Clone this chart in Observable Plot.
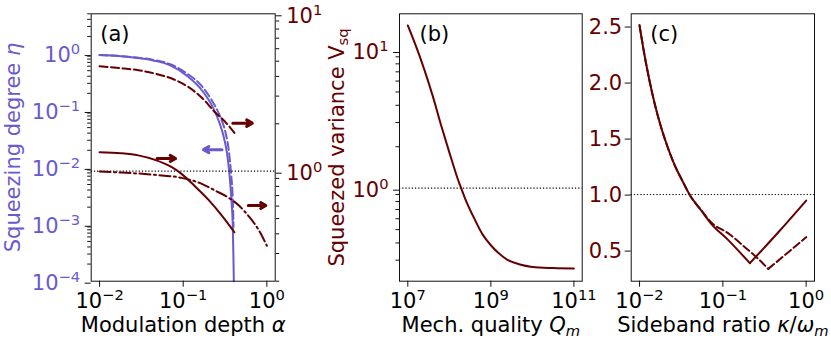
<!DOCTYPE html>
<html><head><meta charset="utf-8">
<script src="https://cdn.jsdelivr.net/npm/d3@7"></script>
<script src="https://cdn.jsdelivr.net/npm/@observablehq/plot@0.6"></script>
<style>
html,body{margin:0;padding:0;background:#fff;}
#chart{position:relative;width:831px;height:338px;overflow:hidden;background:#fff;}
#chart svg{position:absolute;left:0;top:0;}
</style></head><body><div id="chart"></div>
<script>
// ---------------- data ----------------
// Panel (a), left axis: squeezing degree eta vs modulation depth alpha
const alphaEtaSolid = [0.01, 0.018, 0.028, 0.045, 0.07, 0.11, 0.17, 0.22, 0.265, 0.306, 0.335, 0.357, 0.378, 0.392, 0.398, 0.403];
const etaSolid      = [0.94, 0.9, 0.84, 0.75, 0.62, 0.41, 0.22, 0.123, 0.0667, 0.0338, 0.0172, 0.00765, 0.00259, 0.000875, 0.0003, 0.0001];
const alphaEtaDashed = [0.01, 0.018, 0.028, 0.045, 0.07, 0.11, 0.17, 0.22, 0.2786, 0.32, 0.351, 0.374, 0.392, 0.40];
const etaDashed      = [0.94, 0.9, 0.85, 0.77, 0.65, 0.45, 0.26, 0.15, 0.0762, 0.0414, 0.0197, 0.00765, 0.00259, 0.0009];
// Panel (a), right axis: squeezed variance
const alphaVDashed = [0.01, 0.018, 0.029, 0.046, 0.073, 0.115, 0.167, 0.24, 0.32, 0.41];
const vDashedA     = [4.64, 4.51, 4.38, 4.17, 3.88, 3.43, 2.93, 2.37, 2.05, 1.75];
const alphaVSolid  = [0.01, 0.018, 0.029, 0.046, 0.073, 0.0955, 0.139, 0.201, 0.29, 0.41];
const vSolidA      = [1.32, 1.30, 1.26, 1.18, 1.06, 0.962, 0.80, 0.657, 0.522, 0.409];
const alphaVDashDot = [0.01, 0.018, 0.046, 0.0955, 0.167, 0.24, 0.351, 0.4635, 0.611, 0.807, 1.0];
const vDashDotA     = [0.996, 0.981, 0.948, 0.907, 0.831, 0.754, 0.677, 0.605, 0.515, 0.419, 0.336];
// Panel (a) arrows (which axis each curve belongs to)
const arrowVFrom = [0.392, 0.0487, 0.60];
const arrowVTo   = [0.670, 0.0811, 0.973];
const arrowVAt   = [2.02, 1.205, 0.605];
const arrowEtaFrom = [0.291];
const arrowEtaTo   = [0.175];
const arrowEtaAt   = [0.0205];
// Panel (b): squeezed variance vs mechanical quality
const qValues = [1e7, 1.58e7, 2.51e7, 3.98e7, 6.31e7, 1e8, 1.58e8, 1.93e8, 2.51e8, 3.98e8, 6.31e8, 1e9, 1.58e9, 2.51e9, 5.01e9, 1e10, 3.16e10, 1e11];
const vQ      = [15.2, 10.7, 7.24, 4.68, 2.88, 1.82, 1.175, 1.0, 0.813, 0.603, 0.462, 0.385, 0.335, 0.302, 0.279, 0.268, 0.263, 0.261];
// Panel (c): squeezed variance vs sideband ratio
const kappaSolid = [0.01, 0.0114, 0.0131, 0.01503, 0.01807, 0.02178, 0.02624, 0.03305, 0.0398, 0.055, 0.0726, 0.1154, 0.211, 0.4634, 1.0];
const vKSolid    = [2.51, 2.256, 2.024, 1.826, 1.605, 1.422, 1.266, 1.115, 1.0, 0.857, 0.738, 0.595, 0.387, 0.663, 0.946];
const kappaDashed = [0.01, 0.0114, 0.0131, 0.01503, 0.01807, 0.02178, 0.02624, 0.03305, 0.0398, 0.055, 0.0726, 0.1154, 0.1836, 0.2655, 0.3508, 0.611, 1.0];
const vKDashed    = [2.51, 2.256, 2.024, 1.826, 1.605, 1.422, 1.266, 1.115, 1.0, 0.86, 0.75, 0.655, 0.53, 0.426, 0.336, 0.485, 0.619];
// Tick values
const alphaTicks = [0.01, 0.1, 1];
const etaTicks = [1e-4, 1e-3, 1e-2, 1e-1, 1];
const etaMinor = [-4, -3, -2, -1].flatMap(k => [2,3,4,5,6,7,8,9].map(m => m * 10 ** k)).concat([2, 3, 4, 5]);
const vATicks = [1, 10];
const vAMinor = [0.2,0.3,0.4,0.5,0.6,0.7,0.8,0.9,2,3,4,5,6,7,8,9];
const qTicks = [1e7, 1e9, 1e11];
const vBTicks = [1, 10];
const vBMinor = [0.3,0.4,0.5,0.6,0.7,0.8,0.9,2,3,4,5,6,7,8,9];
const kappaTicks = [0.01, 0.1, 1];
const vCTicks = [0.5, 1.0, 1.5, 2.0, 2.5];

// ---------------- helpers ----------------
const blue = "#6a5acd", red = "#650000", ink = "#111";
const pairs = (xs, ys) => xs.map((x, i) => ({x, y: ys[i]}));
// split a V-shaped series at its minimum into two branches (both include the minimum)
const branches = (xs, ys) => {
  const k = ys.indexOf(Math.min(...ys));
  return xs.flatMap((x, i) => {
    const out = [];
    if (i <= k) out.push({x, y: ys[i], b: 0});
    if (i >= k) out.push({x, y: ys[i], b: 1});
    return out;
  });
};
const arrows = (a, b, c) => a.map((x1, i) => ({x1, x2: b[i], y: c[i]}));
const pow10 = d => { const e = Math.round(Math.log10(d)); return "10^{" + (e < 0 ? "\u2212" + (-e) : e) + "}"; };
const style = {fontFamily: "DejaVu Sans", fontSize: "21px", background: "transparent", overflow: "visible"};
const TOP = 13.3, BOTTOM = 280.7;
const layout = (l, r) => ({width: 831, height: 338, marginLeft: l, marginRight: 831 - r, marginTop: TOP, marginBottom: 338 - BOTTOM, style});
const dotted = {stroke: "#000", strokeDasharray: "1.2,2", strokeWidth: 1.2};
const lbl = {textAnchor: "middle", lineAnchor: "middle"};

const SVGNS = "http://www.w3.org/2000/svg";
function richify(svg) {
  svg.querySelectorAll("text").forEach(t => {
    const s = t.textContent;
    if (!/[\^_*]/.test(s)) return;
    while (t.firstChild) t.removeChild(t.firstChild);
    const re = /\^\{([^}]*)\}|_\{([^}]*)\}|\*([^*]+)\*|([^^_*]+)/g;
    let cur = 0, m;
    while ((m = re.exec(s))) {
      let txt, off = 0, small = false, italic = false;
      if (m[1] !== undefined) { txt = m[1]; off = -8; small = true; }
      else if (m[2] !== undefined) { txt = m[2]; off = 4; small = true; }
      else if (m[3] !== undefined) { txt = m[3]; italic = true; }
      else txt = m[4];
      if (/^\*.*\*$/.test(txt)) { txt = txt.slice(1, -1); italic = true; }
      const ts = document.createElementNS(SVGNS, "tspan");
      if (off !== cur) ts.setAttribute("dy", off - cur);
      cur = off;
      if (small) ts.setAttribute("font-size", "70%");
      if (italic) ts.setAttribute("font-style", "italic");
      ts.textContent = txt;
      t.appendChild(ts);
    }
  });
  return svg;
}

const alphaDomain = [10 ** -2.1, 10 ** 0.1];
const chart = document.getElementById("chart");

// Panel (a) – left axis (eta)
const pa1 = Plot.plot({
  ...layout(90.7, 274.7),
  x: {type: "log", domain: alphaDomain},
  y: {type: "log", domain: [1e-4, 5]},
  marks: [
    Plot.axisY({ticks: etaMinor, tickSize: 3.5, tickFormat: () => "", label: null, stroke: ink}),
    Plot.axisY({ticks: etaTicks, tickSize: 6, tickPadding: 5, tickFormat: pow10, label: null, stroke: ink, fill: blue, dy: 2}),
    Plot.axisX({ticks: alphaTicks, tickSize: 6, tickPadding: 5.4, tickFormat: pow10, label: null, stroke: ink, fill: "#000"}),
    Plot.line(pairs(alphaEtaDashed, etaDashed), {x: "x", y: "y", stroke: blue, strokeWidth: 2, strokeDasharray: "8,3.5", curve: "monotone-x"}),
    Plot.line(pairs(alphaEtaSolid, etaSolid), {x: "x", y: "y", stroke: blue, strokeWidth: 2, curve: "monotone-x"}),
    Plot.arrow(arrows(arrowEtaFrom, arrowEtaTo, arrowEtaAt), {x1: "x1", x2: "x2", y1: "y", y2: "y", stroke: blue, strokeWidth: 3, headLength: 7, headAngle: 60}),
    Plot.text(["Squeezing degree *η*"], {...lbl, frameAnchor: "left", rotate: -90, dx: -78, fill: blue}),
    Plot.text(["Modulation depth *α*"], {...lbl, frameAnchor: "bottom", dy: 44, fill: "#000"}),
    Plot.text(["(a)"], {frameAnchor: "top-left", textAnchor: "start", lineAnchor: "top", dx: 9, dy: 12, fill: "#000"}),
    Plot.frame({stroke: ink})
  ]
});
// Panel (a) – right axis (V_sq)
const pa2 = Plot.plot({
  ...layout(90.7, 274.7),
  x: {type: "log", domain: alphaDomain, axis: null},
  y: {type: "log", domain: [0.2, 10]},
  marks: [
    Plot.ruleY([1], dotted),
    Plot.axisY({anchor: "right", ticks: vAMinor, tickSize: 3.5, tickFormat: () => "", label: null, stroke: ink}),
    Plot.axisY({anchor: "right", ticks: vATicks, tickSize: 6, tickPadding: 5, tickFormat: pow10, label: null, stroke: ink, fill: red, dy: 2}),
    Plot.line(pairs(alphaVDashed, vDashedA), {x: "x", y: "y", stroke: red, strokeWidth: 2, strokeDasharray: "8,3.5", curve: "monotone-x"}),
    Plot.line(pairs(alphaVSolid, vSolidA), {x: "x", y: "y", stroke: red, strokeWidth: 2, curve: "monotone-x"}),
    Plot.line(pairs(alphaVDashDot, vDashDotA), {x: "x", y: "y", stroke: red, strokeWidth: 2, strokeDasharray: "11,3.5,2,3.5", curve: "monotone-x"}),
    Plot.arrow(arrows(arrowVFrom, arrowVTo, arrowVAt), {x1: "x1", x2: "x2", y1: "y", y2: "y", stroke: red, strokeWidth: 3, headLength: 7, headAngle: 60})
  ]
});
// Panel (b)
const pb = Plot.plot({
  ...layout(399, 581.7),
  x: {type: "log", domain: [10 ** 6.8, 10 ** 11.2]},
  y: {type: "log", domain: [0.211, 18.48]},
  marks: [
    Plot.ruleY([1], dotted),
    Plot.axisY({ticks: vBMinor, tickSize: 3.5, tickFormat: () => "", label: null, stroke: ink}),
    Plot.axisY({ticks: vBTicks, tickSize: 6, tickPadding: 5, tickFormat: pow10, label: null, stroke: ink, fill: red, dy: 2}),
    Plot.axisX({ticks: qTicks, tickSize: 6, tickPadding: 5.4, tickFormat: pow10, label: null, stroke: ink, fill: "#000"}),
    Plot.line(pairs(qValues, vQ), {x: "x", y: "y", stroke: red, strokeWidth: 2, curve: "catmull-rom"}),
    Plot.text(["Squeezed variance V_{sq}"], {...lbl, frameAnchor: "left", rotate: -90, dx: -62, fill: red}),
    Plot.text(["Mech. quality *Q*_{*m*}"], {...lbl, frameAnchor: "bottom", dy: 44, fill: "#000"}),
    Plot.text(["(b)"], {frameAnchor: "top-left", textAnchor: "start", lineAnchor: "top", dx: 20, dy: 12, fill: "#000"}),
    Plot.frame({stroke: ink})
  ]
});
// Panel (c)
const pc = Plot.plot({
  ...layout(630.7, 814),
  x: {type: "log", domain: [10 ** -2.1, 10 ** 0.1]},
  y: {domain: [0.226, 2.613]},
  marks: [
    Plot.ruleY([1], dotted),
    Plot.axisY({ticks: vCTicks, tickSize: 6, tickPadding: 3, tickFormat: d3.format(".1f"), label: null, stroke: ink, fill: red, dy: 0.6}),
    Plot.axisX({ticks: kappaTicks, tickSize: 6, tickPadding: 5.4, tickFormat: pow10, label: null, stroke: ink, fill: "#000"}),
    Plot.line(branches(kappaDashed, vKDashed), {x: "x", y: "y", z: "b", stroke: red, strokeWidth: 2, strokeDasharray: "7.5,3.5", curve: "monotone-x"}),
    Plot.line(branches(kappaSolid, vKSolid), {x: "x", y: "y", z: "b", stroke: red, strokeWidth: 2, curve: "monotone-x"}),
    Plot.text(["Sideband ratio *κ*/*ω*_{*m*}"], {...lbl, frameAnchor: "bottom", dy: 44, fill: "#000"}),
    Plot.text(["(c)"], {frameAnchor: "top-left", textAnchor: "start", lineAnchor: "top", dx: 19, dy: 12, fill: "#000"}),
    Plot.frame({stroke: ink})
  ]
});
for (const p of [pa1, pa2, pb, pc]) chart.appendChild(richify(p));
</script></body></html>
